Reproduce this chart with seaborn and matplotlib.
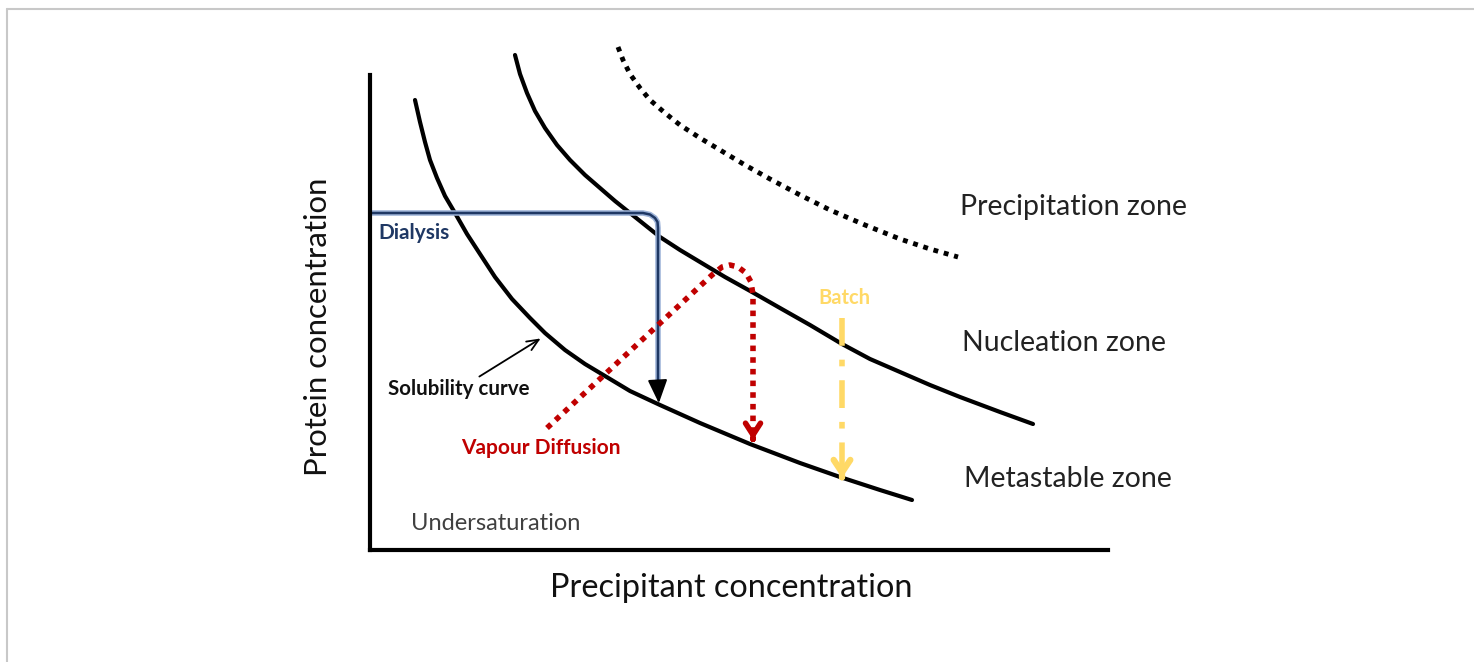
import matplotlib.pyplot as plt
import matplotlib.patheffects as pe
from matplotlib.lines import Line2D
import seaborn as sns

sns.set_theme(style="white")
plt.rcParams['font.family'] = ['Lato', 'DejaVu Sans']

# curve points (pixel-like units from the axes origin)
solubility_x = [45, 50, 55, 60, 67, 75, 85, 97, 110, 125, 142, 160, 175, 195, 215, 235,
                260, 290, 330, 380, 430, 470, 510, 542]
solubility_y = [450, 428, 408, 390, 372, 354, 337, 316, 296, 273, 251, 232, 217, 200, 186, 174,
                159, 145, 127, 106, 87, 73, 60, 50]

nucleation_x = [145, 150, 157, 165, 175, 187, 200, 215, 230, 245, 260, 275, 290, 310, 330, 355,
                382, 410, 440, 472, 500, 530, 560, 590, 630, 663]
nucleation_y = [495, 476, 457, 439, 422, 405, 390, 375, 362, 349, 337, 325, 313, 300, 288, 273,
                258, 242, 225, 206, 191, 178, 165, 153, 138, 126]

precip_x = [248, 253, 260, 270, 280, 295, 310, 330, 350, 375, 400, 430, 460, 495, 530, 560, 588]
precip_y = [503, 490, 476, 462, 450, 437, 425, 412, 400, 385, 371, 355, 340, 325, 311, 301, 293]

dialysis_x = [0, 273, 280, 285, 287.5, 288, 288]
dialysis_y = [337, 337, 335.5, 332, 328, 322, 160]
dialysis_tip = (289, 144)

vapour_x = [177, 342, 352, 360, 368, 376, 381, 383, 383]
vapour_y = [122, 275, 283, 285, 283, 277, 268, 255, 118]
vapour_tip = (383, 110)

batch_x = [472, 472]
batch_y = [232, 82]
batch_tip = (472, 72)

zone_labels = ["Precipitation zone", "Nucleation zone", "Metastable zone"]
zone_x = [590, 592, 594]
zone_y = [343, 207, 71]

navy = "#1f3864"
red = "#c00000"
yellow = "#ffd966"

fig = plt.figure(figsize=(14.74, 6.62), dpi=100)
ax = fig.add_axes([370 / 1474, 1 - 550 / 662, 738 / 1474, 510 / 662])
ax.set_xlim(0, 738)
ax.set_ylim(0, 510)
ax.set_xticks([])
ax.set_yticks([])
for s in ["top", "right"]:
    ax.spines[s].set_visible(False)
for s in ["left", "bottom"]:
    ax.spines[s].set_linewidth(3)
    ax.spines[s].set_color("black")
ax.spines["left"].set_bounds(0, 475)

# the three boundary curves
sns.lineplot(x=solubility_x, y=solubility_y, sort=False, color="black", lw=3, ax=ax)
sns.lineplot(x=nucleation_x, y=nucleation_y, sort=False, color="black", lw=3, ax=ax)
l = sns.lineplot(x=precip_x, y=precip_y, sort=False, color="black", lw=3.5, ax=ax)
l.lines[-1].set_dashes((1, 1.2))
for ln in ax.lines:
    ln.set_clip_on(False)
    ln.set_solid_joinstyle("round")

# dialysis path
outline = [pe.Stroke(linewidth=4, foreground="#9db3d8"), pe.Normal()]
ax.plot(dialysis_x, dialysis_y, color=navy, lw=1.8, path_effects=outline, solid_capstyle="butt")
ax.annotate("", xy=dialysis_tip, xytext=(dialysis_x[-1], dialysis_y[-1] + 2),
            arrowprops=dict(arrowstyle="-|>,head_width=0.5,head_length=1.2",
                            color="black", lw=1.5))

# vapour diffusion path
ax.plot(vapour_x, vapour_y, color=red, lw=4, dashes=(1, 1.1))
ax.annotate("", xy=vapour_tip, xytext=(vapour_tip[0], vapour_tip[1] + 1),
            arrowprops=dict(arrowstyle="->,head_width=0.45,head_length=0.7",
                            color=red, lw=4))

# batch path
ax.plot(batch_x, batch_y, color=yellow, lw=4, dashes=(5, 2.5, 1.2, 2.5))
ax.annotate("", xy=batch_tip, xytext=(batch_tip[0], batch_tip[1] + 1),
            arrowprops=dict(arrowstyle="->,head_width=0.5,head_length=0.75",
                            color=yellow, lw=4.5))

# solubility curve pointer
ax.annotate("", xy=(173, 213), xytext=(107, 172),
            arrowprops=dict(arrowstyle="->,head_width=0.3,head_length=0.7",
                            color="black", lw=1.3))

ax.text(89, 161, "Solubility curve", ha="center", va="center", fontsize=14.8, weight="bold", color="#111111")
ax.text(44, 317, "Dialysis", ha="center", va="center", fontsize=15, weight="bold", color=navy)
ax.text(171, 102, "Vapour Diffusion", ha="center", va="center", fontsize=15, weight="bold", color=red)
ax.text(474, 252, "Batch", ha="center", va="center", fontsize=14.5, weight="bold", color=yellow)
ax.text(126, 27, "Undersaturation", ha="center", va="center", fontsize=17, color="#404040")

for lab, x, y in zip(zone_labels, zone_x, zone_y):
    ax.text(x, y, lab, ha="left", va="center", fontsize=20.5, color="#222222", clip_on=False)

ax.text(361, -38, "Precipitant concentration", ha="center", va="center", fontsize=23.3, color="#111111",
        clip_on=False)
ax.text(-52, 223, "Protein concentration", ha="center", va="center", rotation=90, fontsize=22.4,
        color="#111111", clip_on=False)

# thin grey frame of the original figure
fig.add_artist(Line2D([7 / 1474, 1], [1 - 9 / 662, 1 - 9 / 662], color="#c8c8c8", lw=1.5))
fig.add_artist(Line2D([7 / 1474, 7 / 1474], [0, 1 - 9 / 662], color="#c8c8c8", lw=1.5))

fig.savefig("out.png", dpi=100)
